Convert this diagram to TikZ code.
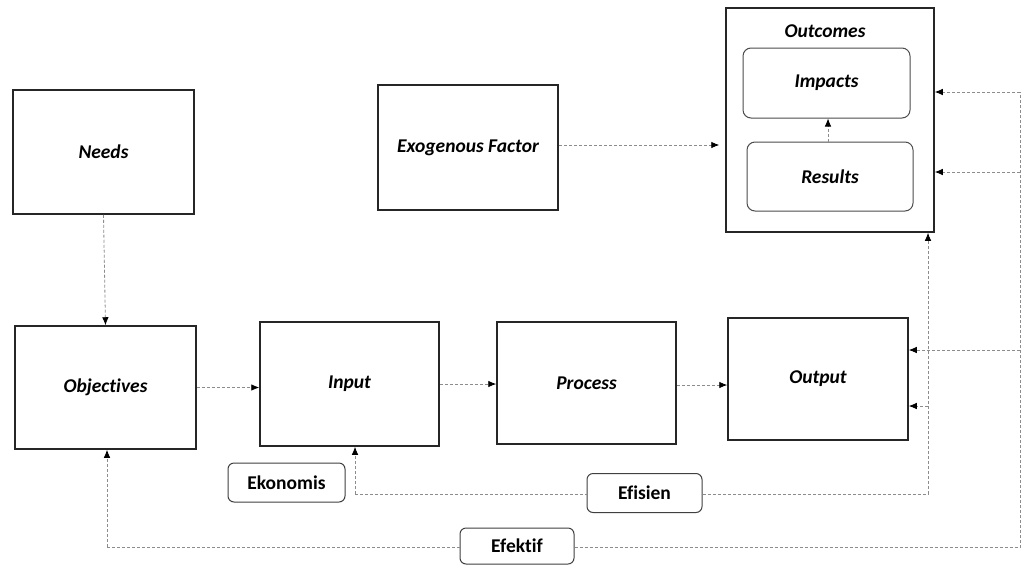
\documentclass[tikz,border=0pt]{standalone}
\usepackage{fontspec}
\setmainfont{Carlito}[Ligatures=NoCommon]
\usetikzlibrary{arrows.meta}
\begin{document}
\begin{tikzpicture}[x=1pt,y=-1pt,
  box/.style={draw=black!85, line width=1.5pt, inner sep=0pt, font=\bfseries\itshape\fontsize{19.5}{22}\selectfont},
  inbox/.style={draw=black!70, line width=1pt, rounded corners=8pt, inner sep=0pt, font=\bfseries\itshape\fontsize{19.5}{22}\selectfont},
  tag/.style={draw=black!75, line width=1pt, rounded corners=6pt, inner sep=0pt, font=\bfseries\fontsize{19.5}{22}\selectfont},
  conn/.style={draw=black!45, line width=0.8pt, dash pattern=on 3pt off 2pt},
  arr/.style={conn, -{Latex[length=8pt,width=6.5pt,color=black]}}
]
\useasboundingbox[fill=white] (0,0) rectangle (1024,565);

\node[box, minimum width=181pt, minimum height=124pt] (needs) at (103.5,152) {Needs};
\node[box, minimum width=181pt, minimum height=123pt] (obj) at (105.5,387.5) {Objectives};
\node[box, minimum width=180pt, minimum height=125pt] (exo) at (468,147.5) {Exogenous Factor};
\node[box, minimum width=179pt, minimum height=124pt] (input) at (349.5,384) {Input};
\node[box, minimum width=179pt, minimum height=122pt] (process) at (586.5,383) {Process};
\node[box, minimum width=180pt, minimum height=122pt] (output) at (818,379) {Output};
\node[box, minimum width=208pt, minimum height=224pt] (outc) at (830,120) {};
\node[font=\bfseries\itshape\fontsize{19.5}{22}\selectfont] (outct) at (825,31) {Outcomes};
\node[inbox, minimum width=167pt, minimum height=70pt] (imp) at (826.5,83) {Impacts};
\node[inbox, minimum width=166pt, minimum height=69pt] (res) at (830,176.5) {Results};

\node[tag, minimum width=117pt, minimum height=39pt] (eko) at (286.5,482.5) {Ekonomis};
\node[tag, minimum width=115pt, minimum height=39pt] (efi) at (644.5,493) {Efisien};
\node[tag, minimum width=114pt, minimum height=36pt] (efe) at (517,546) {Efektif};

\coordinate (a1) at (355,494);
\coordinate (c1) at (928,494);
\coordinate (c2) at (928,406);
\coordinate (b1) at (107,547);
\coordinate (b2) at (1020,547);
\coordinate (b3) at (1020,92);
\coordinate (b4) at (1020,172);
\coordinate (b5) at (1020,350);
\coordinate (e1) at (468,145);

\draw[arr] (needs.south) -- (obj.north);
\draw[arr] (obj.east) -- (obj.east -| input.west);
\draw[arr] (input.east) -- (input.east -| process.west);
\draw[arr] ([yshift=-2pt]process.east) -- ([yshift=-2pt]process.east -| output.west);
\draw[arr, shorten >=6pt] (e1 -| exo.east) -- (e1 -| outc.west);
\draw[arr] (res.north -| 828,0) -- (imp.south -| 828,0);

\draw[arr] (a1) -- (a1 |- input.south);
\draw[conn] (a1) -- (a1 -| efi.west);
\draw[conn] (efi.east |- a1) -- (c1);
\draw[arr] (c1) -- (c1 |- outc.south);
\draw[arr] (c2) -- (c2 -| output.east);

\draw[arr] (b1) -- (b1 |- obj.south);
\draw[conn] (b1) -- (b1 -| efe.west);
\draw[conn] (b1 -| efe.east) -- (b2) -- (b3);
\draw[arr] (b3) -- (b3 -| outc.east);
\draw[arr] (b4) -- (b4 -| outc.east);
\draw[arr] (b5) -- (b5 -| output.east);
\end{tikzpicture}
\end{document}
